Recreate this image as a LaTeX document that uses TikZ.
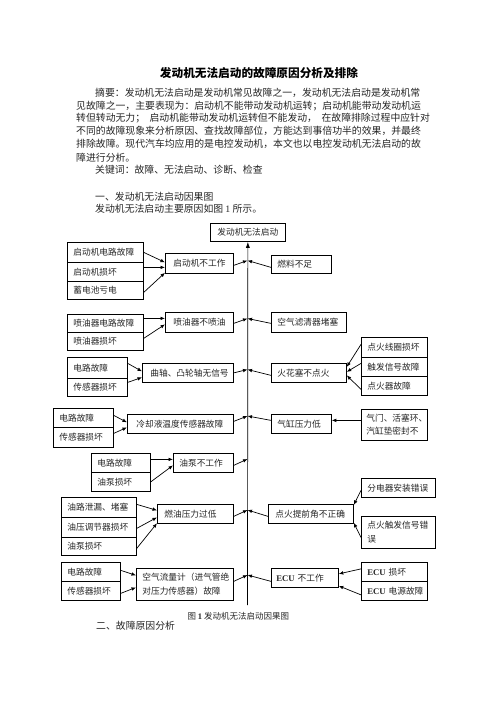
\documentclass[tikz,border=0pt]{standalone}
\usepackage{fontspec}
\setmainfont{Noto Sans CJK SC}
\newfontfamily\lat{Liberation Serif}
\usetikzlibrary{arrows.meta}
\newcommand\mybox[7][6]{%
  \pgfmathsetmacro\bxw{#5-#3}%
  \pgfmathsetmacro\bxh{#6-#4}%
  \pgfmathsetmacro\bxt{#5-#3-2*#1}%
  \node[box, inner xsep=#1pt, minimum width=\bxw pt, minimum height=\bxh pt,
        text width=\bxt pt, anchor=north west] (#2) at (#3,#4) {#7};}
\begin{document}
\begin{tikzpicture}[x=1pt,y=-1pt,
  box/.style={draw, line width=0.75pt, inner ysep=0pt, align=left,
              font=\fontsize{8.7}{13.5}\selectfont, text=black!85},
  arr/.style={draw, line width=0.7pt, -{Latex[length=4.5pt,width=3.6pt]}},
  txt/.style={inner sep=0pt, anchor=west, font=\fontsize{9.85}{12}\selectfont, text=black!85}]
\fill[white] (0,0) rectangle (496,702);
\useasboundingbox (0,0) rectangle (496,702);

% ---------- text ----------
\node[inner sep=0pt, font=\fontsize{11.65}{14}\selectfont\bfseries] (title) at (259,73.3)
  {发动机无法启动的故障原因分析及排除};
\node[txt] (p1) at (95,93.3) {摘要：发动机无法启动是发动机常见故障之一，发动机无法启动是发动机常};
\node[txt] (p2) at (76,105.7) {见故障之一，主要表现为：启动机不能带动发动机运转；启动机能带动发动机运};
\node[txt] (p3) at (76,118.3) {转但转动无力；\hspace{4.5pt}启动机能带动发动机运转但不能发动，\hspace{4.5pt}在故障排除过程中应针对};
\node[txt] (p4) at (76,131) {不同的故障现象来分析原因、查找故障部位，方能达到事倍功半的效果，并最终};
\node[txt] (p5) at (76,144) {排除故障。现代汽车均应用的是电控发动机，本文也以电控发动机无法启动的故};
\node[txt] (p6) at (76,157.3) {障进行分析。};
\node[txt] (kw) at (95,170) {关键词：故障、无法启动、诊断、检查};
\node[txt] (h1) at (95,197) {一、发动机无法启动因果图};
\node[txt] (h1t) at (95,209) {发动机无法启动主要原因如图~{\lat 1}~所示。};

% ---------- boxes ----------
\mybox[7]{top}{210}{223}{285}{241}{发动机无法启动}

\mybox{a1}{67}{242}{143}{262}{启动机电路故障}
\mybox{a2}{67}{262}{143}{281}{启动机损坏}
\mybox{a3}{67}{281}{143}{299}{蓄电池亏电}
\mybox[8]{A}{165}{253}{233}{273}{启动机不工作}

\mybox{b1}{67}{314}{143}{332}{喷油器电路故障}
\mybox{b2}{67}{332}{143}{350}{喷油器损坏}
\mybox[8]{B}{165}{312}{233}{332}{喷油器不喷油}

\mybox{c1}{67}{357}{127}{378}{电路故障}
\mybox{c2}{67}{378}{127}{396}{传感器损坏}
\mybox[8]{C}{142}{363}{233}{382}{曲轴、凸轮轴无信号}

\mybox{d1}{53}{408}{113}{427}{电路故障}
\mybox{d2}{53}{427}{113}{447}{传感器损坏}
\mybox[9]{D}{127}{414}{233}{433}{冷却液温度传感器故障}

\mybox{e1}{91}{453}{150}{472}{电路故障}
\mybox{e2}{91}{472}{150}{491}{油泵损坏}
\mybox{E}{173}{453}{233}{472}{油泵不工作}

\mybox{f1}{61}{497}{136}{517}{油路泄漏、堵塞}
\mybox{f2}{61}{517}{136}{537}{油压调节器损坏}
\mybox{f3}{61}{537}{136}{555}{油泵损坏}
\mybox[7]{F}{157}{504}{233}{523}{燃油压力过低}

\mybox{g1}{61}{562}{120}{581}{电路故障}
\mybox{g2}{61}{581}{120}{600}{传感器损坏}
\mybox{G}{136}{568}{233}{600}{空气流量计（进气管绝\\对压力传感器）故障}

\mybox{H}{271}{255}{331}{273}{燃料不足}
\mybox{I}{271}{312}{346}{332}{空气滤清器堵塞}
\mybox{J}{271}{363}{346}{382}{火花塞不点火}
\mybox{j1}{361}{337}{427}{357}{点火线圈损坏}
\mybox{j2}{361}{357}{427}{376}{触发信号故障}
\mybox{j3}{361}{376}{427}{395}{点火器故障}
\mybox{K}{271}{414}{331}{433}{气缸压力低}
\mybox[5]{k1}{361}{409}{427}{440}{气门、活塞环、\\汽缸垫密封不}
\mybox[7]{L}{268}{504}{353}{523}{点火提前角不正确}
\mybox{l1}{361}{478}{435}{497}{分电器安装错误}
\mybox{l2}{361}{516}{435}{548}{点火触发信号错\\误}
\mybox[5]{M}{271}{568}{338}{587}{\mbox{{\lat\bfseries ECU} 不工作}}
\mybox{m1}{361}{562}{427}{581}{\mbox{{\lat\bfseries ECU} 损坏}}
\mybox{m2}{361}{581}{427}{600}{\mbox{{\lat\bfseries ECU} 电源故障}}

% ---------- spine ----------
\coordinate (sb) at (247.5,605);
\coordinate (s1) at (247.5,260.5);
\coordinate (s2) at (247.5,318.5);
\coordinate (s3) at (247.5,369.5);
\coordinate (s4) at (247.5,416);
\coordinate (s5) at (247.5,459);
\coordinate (s6) at (247.5,510);
\coordinate (s7) at (247.5,575);
\draw[arr, -{Latex[length=6pt,width=4pt]}] (sb) -- (top.south);

% ---------- connectors ----------
\draw[arr] (a1.east) -- ([yshift=1pt]A.west);
\draw[arr] ([yshift=4.5pt]a2.east) -- ([yshift=-4pt]A.west);
\draw[arr] ([yshift=-2pt]a3.east) -- ([yshift=1pt]A.south west);
\draw[arr] ([yshift=-2pt]A.east) -- (s1);
\draw[arr] ([yshift=-3pt]H.west) -- (s1);

\draw[arr] ([yshift=5pt]b1.east) -- ([yshift=4pt]B.west);
\draw[arr] ([yshift=3pt]b2.east) -- ([yshift=-2pt]B.west);
\draw[arr] ([yshift=-1pt]B.east) -- (s2);
\draw[arr] ([yshift=-1pt]I.west) -- (s2);

\draw[arr] ([yshift=4.5pt]c1.east) -- ([yshift=1.5pt]C.west);
\draw[arr] ([yshift=5pt]c2.east) -- ([yshift=-4.5pt]C.west);
\draw[arr] (C.east) -- (s3);
\draw[arr] ([yshift=-2.5pt]J.west) -- (s3);
\draw[arr] ([yshift=3pt]j1.west) -- ([yshift=6pt]J.east);
\draw[arr] ([yshift=3.5pt]j2.west) -- ([yshift=1pt]J.east);
\draw[arr] ([yshift=-3.5pt]j3.west) -- ([yshift=-2.5pt]J.east);

\draw[arr] ([yshift=2.5pt]d1.east) -- ([yshift=1.5pt]D.west);
\draw[arr] ([yshift=4pt]d2.east) -- ([yshift=-3.5pt]D.west);
\draw[arr] ([yshift=2.5pt]D.east) -- (s4);
\draw[arr] ([yshift=3.5pt]K.west) -- (s4);
\draw[arr] ([yshift=4.5pt]k1.west) -- ([yshift=3.5pt]K.east);

\draw[arr] ([yshift=3.5pt]e1.east) -- ([yshift=3.5pt]E.west);
\draw[arr] (e2.east) -- ([yshift=-2.5pt]E.west);
\draw[arr] ([yshift=-2.5pt]E.east) -- (s5);

\draw[arr] ([yshift=3pt]f1.east) -- ([yshift=3.5pt]F.west);
\draw[arr] ([yshift=-1pt]f2.east) -- ([yshift=-3.5pt]F.west);
\draw[arr] ([yshift=-2pt]f3.east) -- ([yshift=0.5pt]F.south west);
\draw[arr] ([yshift=-2.5pt]F.east) -- (s6);
\draw[arr] ([yshift=-2.5pt]L.west) -- (s6);
\draw[arr] ([yshift=-2.5pt]l1.west) -- ([yshift=-1pt]L.north east);
\draw[arr] ([yshift=-5pt]l2.west) -- ([yshift=1pt]L.south east);

\draw[arr] ([yshift=1.5pt]g1.east) -- ([yshift=9pt]G.west);
\draw[arr] ([yshift=-2.5pt]g2.east) -- ([yshift=-3pt]G.west);
\draw[arr] ([yshift=3pt]G.east) -- (s7);
\draw[arr] ([yshift=-3.5pt]M.west) -- (s7);
\draw[arr] ([yshift=3pt]m1.west) -- ([yshift=4pt]M.east);
\draw[arr] ([yshift=-4pt]m2.west) -- ([yshift=-8pt]M.east);

% ---------- caption ----------
\node[inner sep=0pt, font=\fontsize{8.5}{10}\selectfont, text=black!85] (cap) at (238.3,616.7)
  {图~{\lat\bfseries 1}~发动机无法启动因果图};
\node[txt] (h2) at (96,626) {二、故障原因分析};
\end{tikzpicture}
\end{document}
